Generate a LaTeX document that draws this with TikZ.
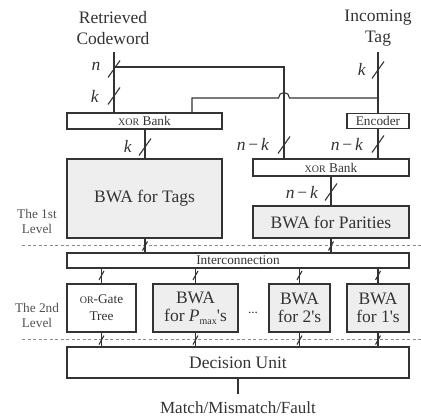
\documentclass[tikz,border=0pt]{standalone}
\usepackage{fontspec}
\setmainfont{Liberation Serif}
\newfontfamily\straightfont{Liberation Serif}[Ligatures=TeXOff]
\usetikzlibrary{calc}
\definecolor{ink}{HTML}{333333}
\definecolor{boxfill}{HTML}{EEEEEE}
\definecolor{dashc}{HTML}{8A8A8A}
\newcommand{\bigfnt}{\rmfamily\fontsize{17.5}{18}\selectfont}
\newcommand{\smallfnt}{\rmfamily\fontsize{13.3}{15}\selectfont}
\newcommand{\scx}[1]{{\fontsize{10}{10}\selectfont #1}}
\newcommand{\apos}{{\straightfont '}}
\tikzset{
  line/.style={draw=ink,line width=1.1pt},
  box/.style={line,rectangle,inner sep=0pt,text=ink,align=center},
  gbox/.style={box,fill=boxfill},
  wbox/.style={box,fill=white},
  lbl/.style={text=ink,inner sep=0pt,align=center},
  sep/.style={draw=dashc,line width=0.8pt,dash pattern=on 3pt off 2.5pt},
  bigslash/.pic={\draw[line] (-6,8.5) -- (6,-8.5);},
  smallslash/.pic={\draw[line] (-2.5,4.5) -- (2.5,-4.5);}
}
\begin{document}
\begin{tikzpicture}[x=1pt,y=-1pt]
\useasboundingbox (0,0) rectangle (421,420);
% titles
\node[lbl,font={\rmfamily\fontsize{17.5}{21}\selectfont}] (rc) at (113,28) {Retrieved\\Codeword};
\node[lbl,font={\rmfamily\fontsize{17.5}{21}\selectfont}] (it) at (378,28) {Incoming\\Tag};
% boxes
\node[wbox,font=\smallfnt,minimum width=155pt,minimum height=16pt] (xor1) at (144.5,121) {\scx{XOR} Bank};
\node[wbox,font=\smallfnt,minimum width=62pt,minimum height=15pt] (enc) at (378,121) {Encoder};
\node[gbox,font=\bigfnt,minimum width=155pt,minimum height=79pt] (tags) at (144.5,198.5) {BWA for Tags};
\node[wbox,font=\smallfnt,minimum width=156pt,minimum height=17pt] (xor2) at (331,167.5) {\scx{XOR} Bank};
\node[gbox,font=\bigfnt,minimum width=156pt,minimum height=32pt] (par) at (331,222) {BWA for Parities};
\node[wbox,font=\smallfnt,minimum width=342pt,minimum height=15pt] (inter) at (238,260.5) {Interconnection};
\node[wbox,font={\rmfamily\fontsize{13.3}{17}\selectfont},minimum width=69pt,minimum height=48pt] (orb) at (101.5,308) {\scx{OR}-Gate\\Tree};
\node[gbox,font=\bigfnt,minimum width=85pt,minimum height=48pt] (pmax) at (195.5,308) {BWA\\for \textit{P}\raisebox{-3pt}{\fontsize{10}{10}\selectfont max}\apos s};
\node[gbox,font=\bigfnt,minimum width=61pt,minimum height=48pt] (two) at (299.5,308) {BWA\\for 2\apos s};
\node[gbox,font=\bigfnt,minimum width=62pt,minimum height=48pt] (one) at (378,308) {BWA\\for 1\apos s};
\node[lbl,font=\smallfnt] (dots) at (253,313) {...};
\node[wbox,font=\bigfnt,minimum width=342pt,minimum height=31pt] (dec) at (238,362.5) {Decision Unit};
\node[lbl,font={\rmfamily\fontsize{17}{20}\selectfont}] (out) at (238,408) {Match/Mismatch/Fault};
% level labels
\node[lbl,font=\smallfnt,text=ink!85] (l1) at (37,221) {The 1st\\Level};
\node[lbl,font=\smallfnt,text=ink!85] (l2) at (37,315) {The 2nd\\Level};
% separators
\coordinate (s1a) at (22,245); \coordinate (s1b) at (421,245);
\coordinate (s2a) at (22,339); \coordinate (s2b) at (421,339);
\draw[sep] (s1a) -- (s1b);
\draw[sep] (s2a) -- (s2b);
% top wiring
\coordinate (cw) at (114,52);
\coordinate (tg) at (378,52);
\coordinate (nj) at (114,67);
\coordinate (nc) at (284,67);
\coordinate (kj) at (378,98);
\coordinate (kc) at (192,98);
\draw[line] (cw) -- (cw |- xor1.north);
\draw[line] (nj) -- (nc) -- (nc |- xor2.north);
\draw[line] (tg) -- (enc.north);
\draw[line] (kj) -- (289.5,98) arc[start angle=0,end angle=-180,radius=5.5] -- (kc) -- (kc |- xor1.north);
\draw[line] (enc.south) -- (enc.south |- xor2.north);
\draw[line] (145,129) coordinate (x1b) -- (x1b |- tags.north);
\draw[line] (xor2.south) -- (par.north);
% level connections
\draw[line] (tags.south -| x1b) -- (inter.north -| x1b);
\draw[line] (par.south) -- (inter.north -| par.south);
\foreach \b in {orb,pmax,two,one}{
  \draw[line] (inter.south -| \b.north) -- (\b.north);
  \draw[line] (\b.south) -- (dec.north -| \b.south);
  \path (\b.north) ++(0,-8) pic{smallslash};
  \path (\b.south) ++(0,7.5) pic{smallslash};
}
\path (145,246) pic{smallslash};
\path (331,246) pic{smallslash};
\draw[line] (dec.south) -- (238,394) coordinate (oe);
% big slashes
\path (114,69) pic{bigslash};
\path (114,96) pic{bigslash};
\path (145,147) pic{bigslash};
\path (284,145) pic{bigslash};
\path (378,70) pic{bigslash};
\path (378,144) pic{bigslash};
\path (331,192) pic{bigslash};
% slash labels
\node[lbl,font=\bigfnt] (ln) at (96,66) {\textit{n}};
\node[lbl,font=\bigfnt] (lk1) at (95,96) {\textit{k}};
\node[lbl,font=\bigfnt] (lk2) at (128,146) {\textit{k}};
\node[lbl,font=\bigfnt] (lnk1) at (253,144) {\textit{n}\,−\,\textit{k}};
\node[lbl,font=\bigfnt] (lk3) at (362,69) {\textit{k}};
\node[lbl,font=\bigfnt] (lnk2) at (347,144) {\textit{n}\,−\,\textit{k}};
\node[lbl,font=\bigfnt] (lnk3) at (302,192) {\textit{n}\,−\,\textit{k}};
\end{tikzpicture}
\end{document}
